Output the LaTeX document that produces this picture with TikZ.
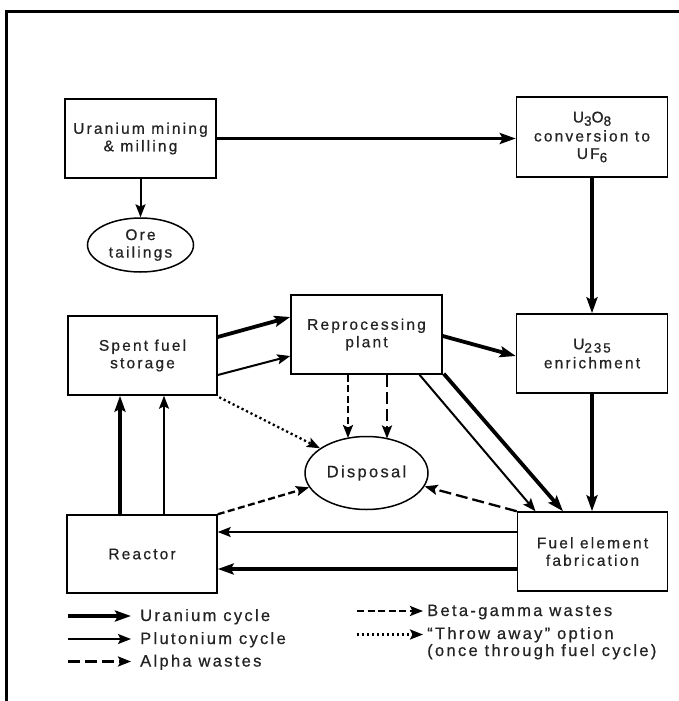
\documentclass[tikz,border=0pt]{standalone}
\usepackage{fontspec}
\setmainfont{Liberation Sans}[LetterSpace=14,FakeBold=0.6]
\usetikzlibrary{arrows.meta,shapes.geometric,calc}
\newcommand\chsub[1]{\raisebox{-0.4ex}{\fontsize{13.5}{13.5}\selectfont #1}}
\definecolor{ink}{RGB}{35,35,35}
\begin{document}
\begin{tikzpicture}[x=1pt,y=-1pt,
  txt/.style={font=\fontsize{15.5}{17.5}\selectfont, text=ink},
  box/.style={txt, draw, line width=1.5pt, minimum width=150pt, minimum height=79pt, inner sep=0pt, align=center},
  oval/.style={txt, ellipse, draw, line width=1.5pt, inner sep=0pt, align=center},
  thicktip/.style={-{Stealth[length=16pt,width=11pt,inset=3pt]}},
  thintip/.style={-{Stealth[length=13pt,width=10pt,inset=2.5pt]}},
  ucyc/.style={thicktip, line width=3.8pt},
  pucyc/.style={thintip, line width=2pt},
  alpha/.style={thintip, line width=2.3pt, dash pattern=on 12pt off 5pt},
  betag/.style={thintip, line width=2.3pt, dash pattern=on 7pt off 3.5pt},
  throwaway/.style={thintip, line width=2.3pt, dash pattern=on 2.2pt off 2.8pt},
  legtxt/.style={font=\fontsize{16.5}{18}\selectfont, text=ink, anchor=base west, inner sep=0pt}
]
\useasboundingbox (0,0) rectangle (679,701);
\draw[line width=3.5pt] (6.5,701) -- (6.5,11.5) -- (679,11.5);

% nodes
\node[box, minimum width=151pt] (mine) at (140.5,138.5) {Uranium mining\\\& milling};
\node[box, minimum width=151pt, minimum height=80pt] (conv) at (592,137) {U\chsub{3}O\chsub{8}\\[1.5pt]conversion to\\UF\chsub{6}};
\node[oval, minimum width=106pt, minimum height=54pt] (tail) at (140.5,245) {Ore\\tailings};
\node[box, minimum width=149pt] (spent) at (142.5,355.5) {Spent fuel\\storage};
\node[box, minimum width=151pt] (repro) at (366.5,334.5) {Reprocessing\\plant};
\node[box, minimum width=151pt] (enrich) at (592,353.5) {U\chsub{235}\\[1.5pt]enrichment};
\node[oval, minimum width=123pt, minimum height=73pt, font=\fontsize{16.5}{18}\selectfont] (disp) at (366.5,473) {Disposal};
\node[box, minimum height=78pt] (reactor) at (142,554) {Reactor};
\node[box] (fuel) at (592.5,551.5) {Fuel element\\fabrication};

% uranium cycle
\draw[ucyc] (mine.east) -- (mine.east -| conv.west);
\draw[ucyc] (conv.south) -- (enrich.north);
\draw[ucyc] (enrich.south) -- (enrich.south |- fuel.north);
\draw[ucyc] ($(spent.east)+(0,-18.5)$) -- ($(repro.west)+(0,-17.5)$);
\draw[ucyc] ($(repro.east)+(0,1.5)$) -- ($(enrich.west)+(0,2.5)$);
\draw[ucyc] ($(repro.south east)+(1,-1)$) -- ($(fuel.north)+(-29.5,0)$);
\draw[ucyc] ($(reactor.north)+(-22,0)$) -- ($(spent.south)+(-22.5,0)$);
\draw[ucyc] ($(fuel.west)+(0,17.5)$) -- ($(reactor.east)+(0,15)$);

% plutonium cycle / other thin
\draw[pucyc] (mine.south) -- (tail.north);
\draw[pucyc] ($(spent.east)+(0,19.5)$) -- ($(repro.west)+(0,21.5)$);
\draw[pucyc] ($(repro.south)+(53,0)$) -- ($(fuel.north)+(-57,0)$);
\draw[pucyc] ($(reactor.north)+(22,0)$) -- ($(spent.south)+(21.5,0)$);
\draw[pucyc] ($(fuel.west)+(0,-19.5)$) -- ($(reactor.east)+(0,-22)$);

% wastes
\draw[betag] ($(repro.south)+(-18.5,0)$) -- ($(disp.center)+(-18.5,-35)$);
\draw[alpha] ($(repro.south)+(20.5,0)$) -- ($(disp.center)+(20.5,-34.5)$);
\draw[betag] (reactor.north east) -- (disp.194);
\draw[alpha] (fuel.north west) -- (disp.347);
\draw[throwaway] ($(spent.south east)+(1.5,1.5)$) -- (disp.152);

% legend
\coordinate (l1s) at (68,616);  \coordinate (l1e) at (131,616);
\coordinate (l2s) at (68,639);  \coordinate (l2e) at (131,639);
\coordinate (l3s) at (68,661.5);\coordinate (l3e) at (131,661.5);
\coordinate (r1s) at (357,611); \coordinate (r1e) at (423,611);
\coordinate (r2s) at (357,634.5); \coordinate (r2e) at (423,634.5);
\draw[ucyc] (l1s) -- (l1e);
\draw[pucyc] (l2s) -- (l2e);
\draw[alpha] (l3s) -- (l3e);
\draw[betag] (r1s) -- (r1e);
\draw[throwaway] (r2s) -- (r2e);
\node[legtxt] (t1) at (140,621) {Uranium cycle};
\node[legtxt] (t2) at (140,644) {Plutonium cycle};
\node[legtxt] (t3) at (140,666.5) {Alpha wastes};
\node[legtxt] (t4) at (427,616) {Beta-gamma wastes};
\node[legtxt] (t5) at (427,639) {“Throw away” option};
\node[legtxt] (t6) at (427,656) {(once through fuel cycle)};
\end{tikzpicture}
\end{document}
